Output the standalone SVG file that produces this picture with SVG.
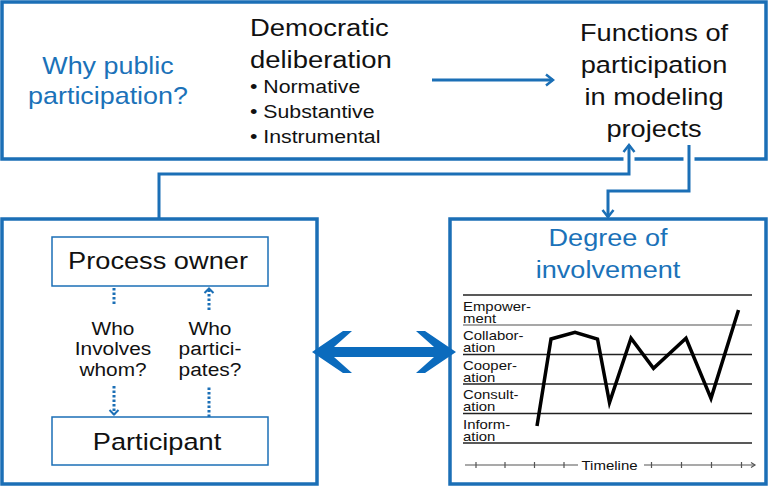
<svg xmlns="http://www.w3.org/2000/svg" width="769" height="486" viewBox="0 0 769 486">
<defs>
<style>
.box{fill:none;stroke:#1b6fb6;stroke-width:3.5}
.inbox{fill:#fff;stroke:#1b6fb6;stroke-width:1.5}
.con{fill:none;stroke:#1b6fb6;stroke-width:3}
.dot{fill:none;stroke:#1b6fb6;stroke-width:3;stroke-dasharray:2.5 2}
text{font-family:"Liberation Sans",Arial,Helvetica,sans-serif;fill:#111}
.blue{fill:#1b72b9}
.grid{stroke:#222;stroke-width:1.5}
.tl{stroke:#555;stroke-width:1.2;fill:none}
</style>
<marker id="ah" markerUnits="userSpaceOnUse" viewBox="-10 -7 12 14" refX="0" refY="0" markerWidth="12" markerHeight="14" orient="auto"><path d="M-7,-5.5 L0,0 L-7,5.5" fill="none" stroke="#1b6fb6" stroke-width="2.5"/></marker>
<marker id="ahs" markerUnits="userSpaceOnUse" viewBox="-8 -6 10 12" refX="0" refY="0" markerWidth="10" markerHeight="12" orient="auto"><path d="M-4.5,-4.5 L0,0 L-4.5,4.5" fill="none" stroke="#1b6fb6" stroke-width="2"/></marker>
<marker id="aht" markerUnits="userSpaceOnUse" viewBox="-6 -4 8 8" refX="0" refY="0" markerWidth="8" markerHeight="8" orient="auto"><path d="M-4,-2.5 L0,0 L-4,2.5" fill="none" stroke="#555" stroke-width="1.2"/></marker>
</defs>
<rect width="769" height="486" fill="#fff"/>

<g id="top-box">
<rect class="box" x="2" y="2" width="764" height="157"/>
<text class="blue" font-size="24" text-anchor="middle" transform="translate(108,74) scale(1.12,1)"><tspan x="0">Why public</tspan><tspan x="0" dy="30">participation?</tspan></text>
</g>

<g id="democratic-deliberation">
<text font-size="24.5" transform="translate(250,36) scale(1.12,1)"><tspan x="0">Democratic</tspan><tspan x="0" dy="32">deliberation</tspan></text>
<text font-size="19" transform="translate(250,93) scale(1.12,1)"><tspan x="0">• Normative</tspan><tspan x="0" dy="25">• Substantive</tspan><tspan x="0" dy="25">• Instrumental</tspan></text>
</g>

<g id="functions">
<text font-size="24.3" text-anchor="middle" transform="translate(654,40.5) scale(1.12,1)"><tspan x="0">Functions of</tspan><tspan x="0" dy="32.2">participation</tspan><tspan x="0" dy="32.2">in modeling</tspan><tspan x="0" dy="32.2">projects</tspan></text>
</g>

<g id="actors-box">
<rect class="box" x="2" y="219" width="315" height="265"/>
</g>
<g id="process-owner">
<rect class="inbox" x="52" y="237" width="216" height="49"/>
<text font-size="24.3" text-anchor="middle" transform="translate(158,269) scale(1.12,1)">Process owner</text>
</g>
<g id="participant">
<rect class="inbox" x="52" y="417" width="216" height="48"/>
<text font-size="24.3" text-anchor="middle" transform="translate(157,450) scale(1.12,1)">Participant</text>
</g>

<g id="involvement-box">
<rect class="box" x="450" y="219" width="316" height="265"/>
<text class="blue" font-size="24.2" text-anchor="middle" transform="translate(608,246) scale(1.12,1)"><tspan x="0">Degree of</tspan><tspan x="0" dy="32">involvement</tspan></text>
<line class="grid" x1="463" y1="295" x2="752" y2="295"/>
<line x1="463" y1="325" x2="752" y2="325" stroke="#8a8a8a" stroke-width="1.5"/>
<line class="grid" x1="463" y1="354.5" x2="752" y2="354.5"/>
<line class="grid" x1="463" y1="384" x2="752" y2="384" stroke="#444"/>
<line class="grid" x1="463" y1="413.5" x2="752" y2="413.5"/>
<line class="grid" x1="463" y1="443" x2="752" y2="443"/>
<g font-size="13.2">
<text transform="translate(463,310.5) scale(1.13,1)"><tspan x="0">Empower-</tspan><tspan x="0" dy="12">ment</tspan></text>
<text transform="translate(463,340) scale(1.13,1)"><tspan x="0">Collabor-</tspan><tspan x="0" dy="12">ation</tspan></text>
<text transform="translate(463,369.5) scale(1.13,1)"><tspan x="0">Cooper-</tspan><tspan x="0" dy="12">ation</tspan></text>
<text transform="translate(463,399) scale(1.13,1)"><tspan x="0">Consult-</tspan><tspan x="0" dy="12">ation</tspan></text>
<text transform="translate(463,428.5) scale(1.13,1)"><tspan x="0">Inform-</tspan><tspan x="0" dy="12">ation</tspan></text>
</g>
<polyline points="537,426 551,339 575,332.3 597.5,339 609.5,402.5 631,338.3 653.5,368.3 686,338.3 711,398.3 738.5,310" fill="none" stroke="#000" stroke-width="3.5" stroke-linejoin="miter"/>
<path class="tl" d="M465,465 H578 M644,465 H755" marker-end="url(#aht)"/>
<path class="tl" d="M476,462 V468 M505,462 V468 M534.5,462 V468 M564,462 V468 M651.5,462 V468 M681.5,462 V468 M711.5,462 V468 M741.5,462 V468"/>
<text font-size="13.4" text-anchor="middle" transform="translate(609.5,469.5) scale(1.12,1)">Timeline</text>
</g>

<g id="connectors">
<path class="con" d="M432,80 H553" marker-end="url(#ah)"/>
<rect x="623.5" y="155" width="11" height="8" fill="#fff"/>
<rect x="683.5" y="155" width="11" height="8" fill="#fff"/>
<path class="con" d="M159,219 V174 H629 V145" marker-end="url(#ah)"/>
<path class="con" d="M689,145 V191 H608 V217" marker-end="url(#ah)"/>
<path class="dot" d="M114,288 V305"/>
<path class="dot" d="M114,386 V414.5" marker-end="url(#ahs)"/>
<path class="dot" d="M209,417 V387"/>
<path class="dot" d="M209,310 V288.5" marker-end="url(#ahs)"/>
<polygon fill="#0b6bbd" points="312,352 343,331 352,331 334,347 434,347 416,331 425,331 456,352 425,373 416,373 434,357 334,357 352,373 343,373"/>
<text font-size="18.6" text-anchor="middle" transform="translate(113,334.5) scale(1.12,1)"><tspan x="0">Who</tspan><tspan x="0" dy="21">Involves</tspan><tspan x="0" dy="21">whom?</tspan></text>
<text font-size="18.7" text-anchor="middle" transform="translate(210,334.5) scale(1.12,1)"><tspan x="0">Who</tspan><tspan x="0" dy="21">partici-</tspan><tspan x="0" dy="21">pates?</tspan></text>
</g>
</svg>
